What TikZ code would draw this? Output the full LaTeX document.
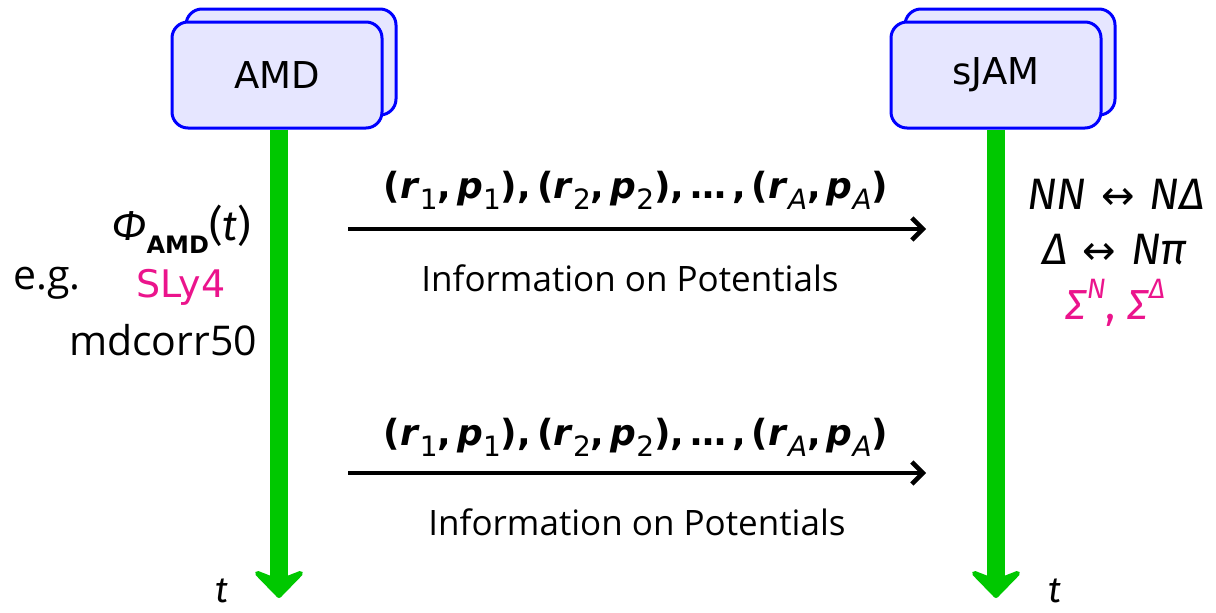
\documentclass[tikz,border=0pt]{standalone}
\usepackage{fontspec}
\setmainfont{Open Sans}
\newfontfamily\dejavu{DejaVu Sans}
\newfontfamily\fira{Fira Sans}
\usetikzlibrary{arrows.meta}
\definecolor{boxfill}{RGB}{230,230,255}
\definecolor{boxline}{RGB}{0,0,255}
\definecolor{tgreen}{RGB}{0,200,0}
\definecolor{pink}{RGB}{235,20,140}
\newcommand\fs[1]{\fontsize{#1}{#1}\selectfont}
\newcommand\lo[1]{\raisebox{-0.3em}{\mdseries\fs{28}#1}}
\newcommand\hi[1]{\raisebox{0.5em}{\fs{28}#1}}
\newcommand\rp[1]{(\textbf{\textit{r}}\lo{#1},\,\textbf{\textit{p}}\lo{#1})}
\tikzset{
  simbox/.style={draw=boxline, fill=boxfill, line width=3, rounded corners=16,
    minimum width=210, minimum height=106, inner sep=0, font=\dejavu\fs{37}},
  timeline/.style={draw=tgreen, line width=18, -{Stealth[round,length=32,width=62,inset=12]}},
  msg/.style={draw=black, line width=4.5, -{Straight Barb[length=11,width=22]}},
  lbl/.style={inner sep=0, anchor=center},
}
\begin{document}
\begin{tikzpicture}[x=1pt,y=-1pt]
\useasboundingbox (0,0) rectangle (1216,613);
% boxes
\node[simbox] (amdback) at (291,62) {};
\node[simbox] (amd) at (277,75) {AMD};
\node[simbox] (sjamback) at (1010,62) {};
\node[simbox] (sjam) at (996,75) {sJAM};
% timelines
\coordinate (amdend) at (279,598);
\coordinate (sjamend) at (996,598);
\draw[timeline] (amd.south -| amdend) -- (amdend);
\draw[timeline] (sjam.south) -- (sjamend);
% messages
\coordinate (m1s) at (348,229);
\coordinate (m1e) at (926,229);
\coordinate (m2s) at (348,473);
\coordinate (m2e) at (926,473);
\draw[msg] (m1s) -- (m1e);
\draw[msg] (m2s) -- (m2e);
\node[lbl] (m1top) at (636,190) {\dejavu\fs{36}\bfseries \rp{1},\,\rp{2},\,\dots\,,\,\rp{\textit{A}}};
\node[lbl] (m1bot) at (630,278) {\fs{35}Information on Potentials};
\node[lbl] (m2top) at (636,437) {\dejavu\fs{36}\bfseries \rp{1},\,\rp{2},\,\dots\,,\,\rp{\textit{A}}};
\node[lbl] (m2bot) at (637,522) {\fs{35}Information on Potentials};
% left labels
\node[lbl] (phi) at (182,229) {\fira\fs{42}\textit{Φ}\raisebox{-0.3em}{\dejavu\bfseries\fs{24}AMD}(\textit{t})};
\node[lbl] (eg) at (47,283) {\fs{41}e.g.};
\node[lbl, text=pink] (sly) at (181,287) {\dejavu\fs{38}SLy4};
\node[lbl] (md) at (163,340) {\fs{41}mdcorr50};
% right labels
\node[lbl] (nn) at (1116,194) {\fira\fs{44}\textit{NN}\,\,{\dejavu\fs{40}↔}\,\,\textit{NΔ}};
\node[lbl] (dn) at (1115,250) {\fira\fs{44}\textit{Δ}\,\,{\dejavu\fs{40}↔}\,\,\textit{Nπ}};
\node[lbl, text=pink] (sig) at (1115,303) {\fira\fs{42}\textit{Σ}\hi{\textit{N}}, \textit{Σ}\hi{\textit{Δ}}};
% time labels
\node[lbl] (t1) at (222,591) {\fira\fs{36}\textit{t}};
\node[lbl] (t2) at (1055,591) {\fira\fs{36}\textit{t}};
\end{tikzpicture}
\end{document}
